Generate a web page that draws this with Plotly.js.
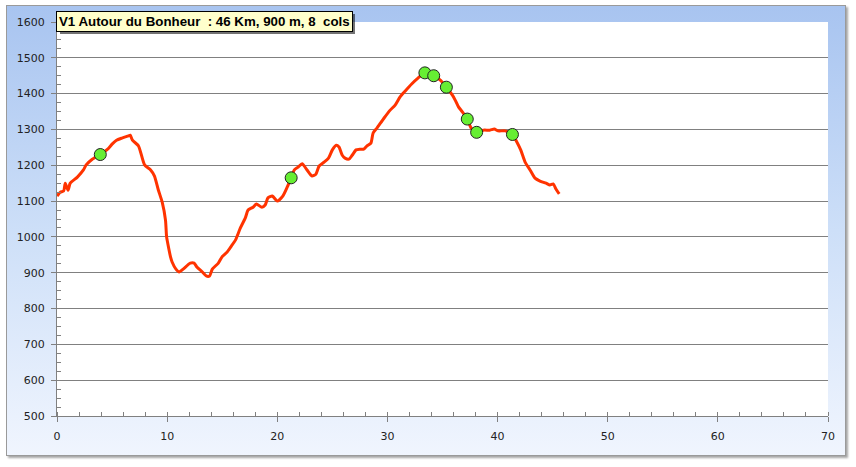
<!DOCTYPE html>
<html>
<head>
<meta charset="utf-8">
<script src="https://cdn.plot.ly/plotly-3.0.1.min.js"></script>
<style>
  html, body { margin: 0; padding: 0; background: #ffffff; }
  #panel {
    position: absolute; left: 6px; top: 5px; width: 838px; height: 449px;
    border: 1px solid #9a9a9a;
    background: linear-gradient(to bottom, #a8c4f0 0%, #cddff8 50%, #f0f5fe 100%);
    box-shadow: 2px 2px 2px rgba(0,0,0,0.35);
  }
  #chart { position: absolute; left: 0; top: 0; width: 856px; height: 467px; }
</style>
</head>
<body>
<div id="panel"></div>
<div id="chart"></div>
<script>
// Elevation profile (distance in km, elevation in m)
const distanceKm = [0, 0.3, 0.6, 0.75, 1.0, 1.2, 1.85, 2.4, 2.65, 3.2, 3.93, 4.6, 5.0, 5.4, 5.9, 6.5, 6.65, 6.85, 7.4, 7.95, 8.5, 8.85, 9.2, 9.55, 9.85, 9.95, 10.05, 10.3, 10.45, 10.8, 11.1, 11.45, 12.1, 12.45, 12.7, 13.2, 13.55, 13.85, 14.1, 14.65, 15.0, 15.45, 15.8, 16.2, 16.65, 17.1, 17.35, 17.8, 18.1, 18.6, 18.9, 19.15, 19.55, 20.0, 20.5, 20.9, 21.26, 21.55, 21.9, 22.25, 22.7, 23.15, 23.5, 23.8, 24.25, 24.65, 25.0, 25.35, 25.6, 25.9, 26.15, 26.5, 26.8, 27.15, 27.5, 27.85, 28.15, 28.5, 28.7, 29.05, 29.7, 30.25, 30.7, 31.15, 31.6, 32.2, 32.8, 33.4, 34.2, 34.8, 35.35, 35.9, 36.15, 36.45, 36.8, 37.25, 37.6, 38.1, 38.7, 39.3, 39.7, 40.05, 40.7, 41.35, 41.7, 42.1, 42.5, 42.95, 43.4, 43.85, 44.4, 44.75, 45.05, 45.3, 45.6];
const elevationM = [1114, 1125, 1128, 1150, 1130, 1150, 1167, 1187, 1201, 1217, 1230, 1245, 1259, 1270, 1276, 1282, 1284, 1270, 1254, 1201, 1187, 1170, 1131, 1097, 1047, 1000, 983, 945, 930, 910, 902, 910, 927, 927, 916, 902, 891, 891, 910, 927, 945, 958, 973, 991, 1025, 1053, 1075, 1083, 1092, 1083, 1089, 1109, 1114, 1100, 1114, 1139, 1165, 1187, 1195, 1204, 1187, 1170, 1175, 1198, 1209, 1220, 1243, 1256, 1251, 1228, 1220, 1217, 1228, 1243, 1245, 1245, 1254, 1262, 1290, 1304, 1332, 1354, 1368, 1391, 1407, 1427, 1444, 1458, 1450, 1438, 1418, 1396, 1382, 1363, 1349, 1329, 1304, 1292, 1298, 1298, 1301, 1296, 1296, 1286, 1268, 1243, 1209, 1187, 1164, 1156, 1150, 1145, 1148, 1134, 1120];
// Cols (passes) along the route
const colKm = [3.93, 21.26, 33.4, 34.2, 35.35, 37.25, 38.1, 41.35];
const colElev = [1230, 1165, 1458, 1450, 1418, 1329, 1292, 1286];
const titleText = "V1 Autour du Bonheur  : 46 Km, 900 m, 8  cols";

const traces = [
  {
    x: distanceKm, y: elevationM, type: 'scatter', mode: 'lines',
    line: { color: '#ff3300', width: 3, shape: 'spline', smoothing: 0.6 },
    hoverinfo: 'x+y'
  },
  {
    x: colKm, y: colElev, type: 'scatter', mode: 'markers',
    marker: { color: '#66ee33', size: 12, line: { color: '#222222', width: 1 } },
    hoverinfo: 'x+y'
  }
];

const tickFont = { family: 'DejaVu Sans, Verdana, sans-serif', size: 11, color: '#222222' };

const layout = {
  width: 856, height: 467,
  margin: { l: 57, r: 28, t: 22, b: 51, pad: 0 },
  paper_bgcolor: 'rgba(0,0,0,0)',
  plot_bgcolor: '#ffffff',
  showlegend: false,
  xaxis: {
    range: [0, 70], dtick: 10, tick0: 0,
    showgrid: false, zeroline: false,
    showline: true, linecolor: '#808080', linewidth: 1,
    ticks: 'outside', ticklen: 5, tickcolor: '#808080',
    ticklabelstandoff: 5,
    minor: { dtick: 2, ticks: 'inside', ticklen: 4, tickcolor: '#808080', showgrid: false },
    tickfont: tickFont, fixedrange: true
  },
  yaxis: {
    range: [500, 1600], dtick: 100, tick0: 500,
    showgrid: true, gridcolor: '#808080', gridwidth: 1,
    zeroline: false,
    showline: true, linecolor: '#808080', linewidth: 1,
    ticks: 'outside', ticklen: 5, tickcolor: '#808080',
    ticklabelstandoff: 4,
    minor: { dtick: 25, ticks: 'inside', ticklen: 4, tickcolor: '#808080', showgrid: false },
    tickfont: tickFont, fixedrange: true
  },
  shapes: [
    {
      type: 'rect', xref: 'paper', yref: 'paper', layer: 'above',
      x0: 0.0039, x1: 0.3865, y0: 0.9695, y1: 1.0203,
      fillcolor: 'rgba(0,0,0,0.55)', line: { width: 0 }
    }
  ],
  annotations: [
    {
      text: '<b>' + titleText + '</b>',
      xref: 'paper', yref: 'paper', x: -0.001, y: 1.028,
      xanchor: 'left', yanchor: 'top', showarrow: false,
      bgcolor: '#ffffcc', bordercolor: '#000000', borderwidth: 1, borderpad: 2,
      font: { family: 'Liberation Sans, Arial, sans-serif', size: 13.3, color: '#000000' }
    }
  ]
};

Plotly.newPlot('chart', traces, layout, { displayModeBar: false, staticPlot: true });
</script>
</body>
</html>
